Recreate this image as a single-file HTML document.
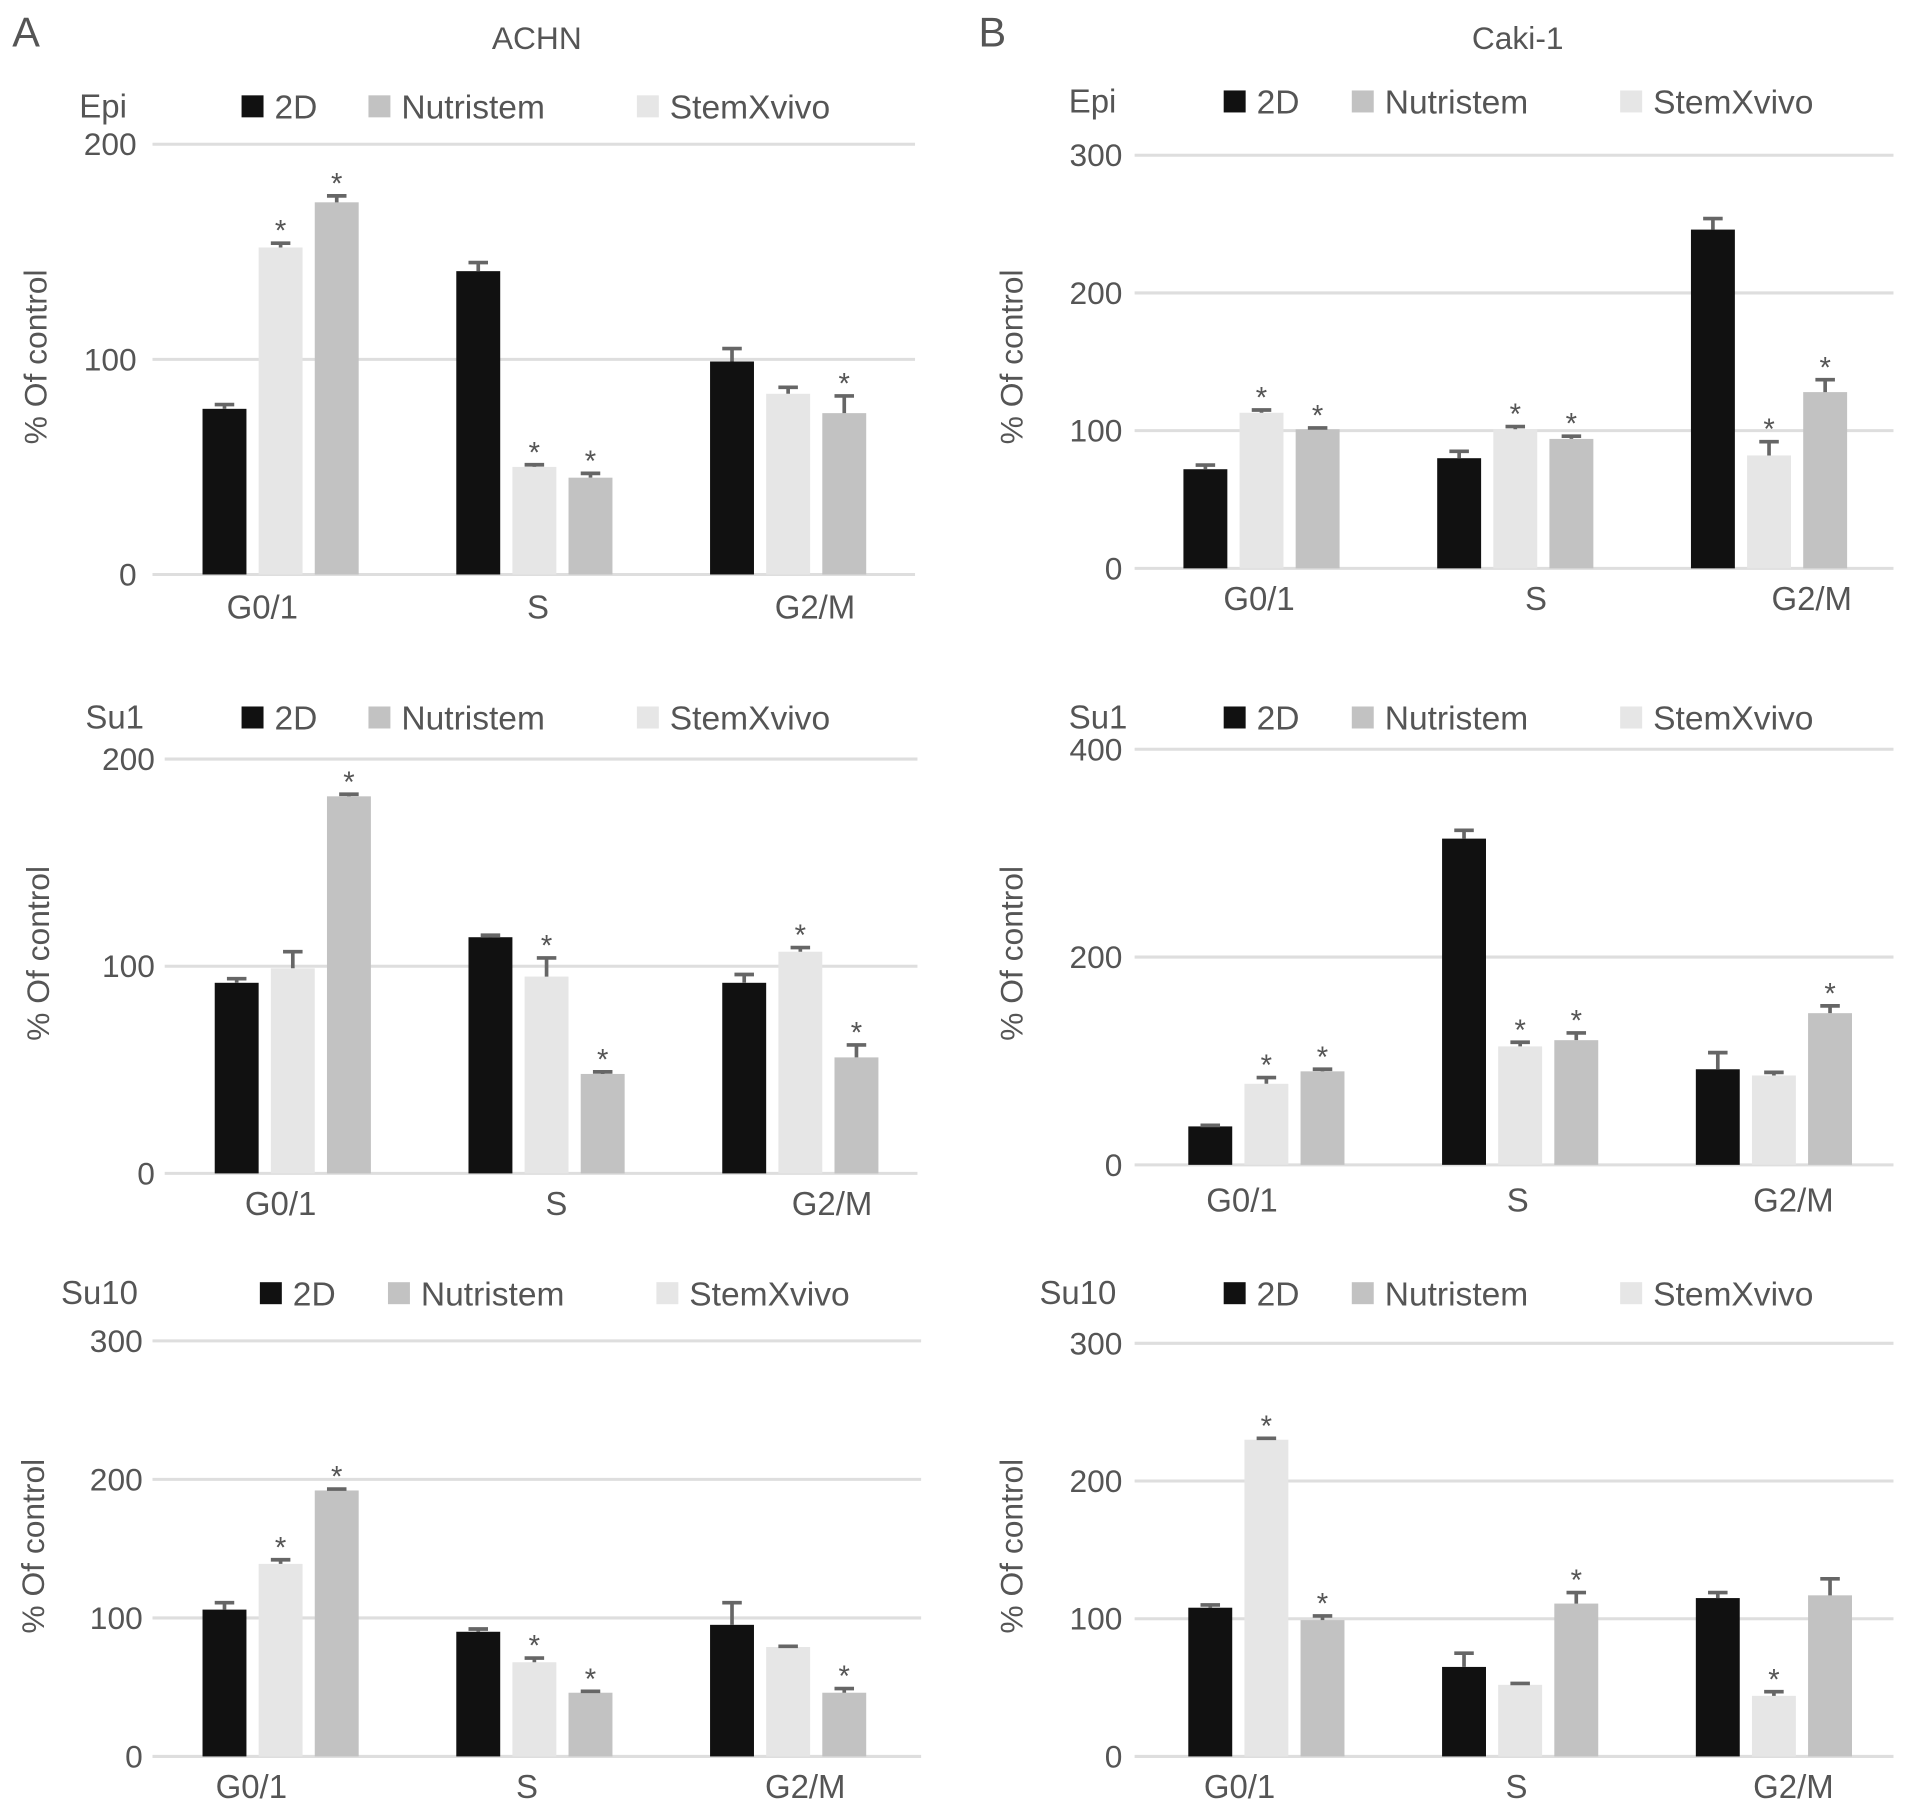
<!DOCTYPE html>
<html><head><meta charset="utf-8"><style>
html,body{margin:0;padding:0;background:#fff;}
svg{display:block;}
text{font-family:"Liberation Sans",sans-serif;fill:#555;}
</style></head><body>
<svg id="fig" width="1913" height="1809" viewBox="0 0 1568 1480" preserveAspectRatio="none" xmlns="http://www.w3.org/2000/svg">
<text x="10" y="38" font-size="34" fill="#333">A</text>
<text x="440" y="40" font-size="26" text-anchor="middle">ACHN</text>
<text x="802" y="38" font-size="34" fill="#333">B</text>
<text x="1244" y="40" font-size="26" text-anchor="middle">Caki-1</text>
</svg>
<script>
const categories = ["G0/1","S","G2/M"];
const seriesNames = ["2D","StemXvivo","Nutristem"];
// ACHN Epi
const aEpi2D=[77,141,99], aEpiStem=[152,50,84], aEpiNutri=[173,45,75];
const aEpiErr2D=[2,4,6], aEpiErrStem=[2,1,3], aEpiErrNutri=[3,2,8];
const aEpiStars=[[0,1],[0,2],[1,1],[1,2],[2,2]];
const aEpiTicks=[0,100,200];
// ACHN Su1
const aSu12D=[92,114,92], aSu1Stem=[99,95,107], aSu1Nutri=[182,48,56];
const aSu1Err2D=[2,1,4], aSu1ErrStem=[8,9,2], aSu1ErrNutri=[1,1,6];
const aSu1Stars=[[0,2],[1,1],[1,2],[2,1],[2,2]];
const aSu1Ticks=[0,100,200];
// ACHN Su10
const aSu102D=[106,90,95], aSu10Stem=[139,68,79], aSu10Nutri=[192,46,46];
const aSu10Err2D=[5,2,16], aSu10ErrStem=[3,3,0.5], aSu10ErrNutri=[1,1,3];
const aSu10Stars=[[0,1],[0,2],[1,1],[1,2],[2,2]];
const aSu10Ticks=[0,100,200,300];
// Caki-1 Epi
const bEpi2D=[72,80,246], bEpiStem=[113,101,82], bEpiNutri=[101,94,128];
const bEpiErr2D=[3,5,8], bEpiErrStem=[2,2,10], bEpiErrNutri=[1,2,9];
const bEpiStars=[[0,1],[0,2],[1,1],[1,2],[2,1],[2,2]];
const bEpiTicks=[0,100,200,300];
// Caki-1 Su1
const bSu12D=[37,314,92], bSu1Stem=[78,114,86], bSu1Nutri=[90,120,146];
const bSu1Err2D=[1,8,16], bSu1ErrStem=[6,4,3], bSu1ErrNutri=[2,7,7];
const bSu1Stars=[[0,1],[0,2],[1,1],[1,2],[2,2]];
const bSu1Ticks=[0,200,400];
// Caki-1 Su10
const bSu102D=[108,65,115], bSu10Stem=[230,52,44], bSu10Nutri=[99,111,117];
const bSu10Err2D=[2,10,4], bSu10ErrStem=[1,1,3], bSu10ErrNutri=[3,8,12];
const bSu10Stars=[[0,1],[0,2],[1,2],[2,1]];
const bSu10Ticks=[0,100,200,300];

const NS="http://www.w3.org/2000/svg";
const svg=document.getElementById('fig');
const colors=["#111111","#e6e6e6","#c2c2c2"];
function mk(tag,attrs,parent){const e=document.createElementNS(NS,tag);for(const k in attrs)e.setAttribute(k,attrs[k]);(parent||svg).appendChild(e);return e;}

function panel(id,label,vals,errs,stars,ticks,L){
  const g=mk('g',{});
  
  
  const maxV=ticks[ticks.length-1];
  const y=v=>L.y0-(v/maxV)*(L.y0-L.yTop);
  ticks.forEach(t=>{
    const ln=mk('line',{x1:L.gx1,x2:L.gx2,y1:y(t),y2:y(t),stroke:'#dedede','stroke-width':2.5},g);
    
    
    const tx=mk('text',{x:L.tickX,y:y(t)+9,'font-size':26,'text-anchor':'end'},g);
    tx.textContent=t;
    
    
  });
  const yl=mk('text',{x:0,y:0,'font-size':26,'text-anchor':'middle',transform:`translate(${L.ylX},${L.ylY}) rotate(-90)`},g);
  yl.textContent='% Of control';
  
  
  const lab=mk('text',{x:L.labX,y:L.legY+9,'font-size':27},g);
  lab.textContent=label;
  
  
  const leg=[[L.lg[0],'#111111','2D'],[L.lg[1],'#c2c2c2','Nutristem'],[L.lg[2],'#e6e6e6','StemXvivo']];
  leg.forEach(([lx,c,n])=>{
    const r=mk('rect',{x:lx,y:L.legY-9,width:18,height:18,fill:c},g);
    
    
    const t=mk('text',{x:lx+27,y:L.legY+10,'font-size':27.5},g);
    t.textContent=n;
    
    
  });
  for(let c=0;c<categories.length;c++){
    for(let s=0;s<3;s++){
      const x=L.x0+c*208+s*46, w=36, v=vals[s][c], e=errs[s][c];
      const r=mk('rect',{x:x,y:y(v),width:w,height:L.y0-y(v),fill:colors[s]},g);
      
      
      const cx=x+w/2;
      const eb=mk('path',{d:`M${cx},${y(v)} V${y(v+e)} M${cx-8},${y(v+e)} H${cx+8}`,stroke:'#666','stroke-width':3,fill:'none'},g);
      
      
    }
    const ct=mk('text',{x:L.catX[c],y:L.catY,'font-size':27,'text-anchor':'middle'},g);
    ct.textContent=categories[c];
    
    
  }
  stars.forEach(([c,s])=>{
    const x=L.x0+c*208+s*46+18, v=vals[s][c]+errs[s][c];
    const st=mk('text',{x:x,y:y(v)-2,'font-size':24,'text-anchor':'middle',fill:'#666'},g);
    st.textContent='*';
    
    
  });
}
const LA=[198,302,522], LB=[1003,1108,1328];
panel('achn-epi','Epi',[aEpi2D,aEpiStem,aEpiNutri],[aEpiErr2D,aEpiErrStem,aEpiErrNutri],aEpiStars,aEpiTicks,
 {y0:470,yTop:118,gx1:125,gx2:750,tickX:112,x0:166,catY:506,catX:[215,441,668],legY:87,labX:65,lg:LA,ylX:38,ylY:292});
panel('achn-su1','Su1',[aSu12D,aSu1Stem,aSu1Nutri],[aSu1Err2D,aSu1ErrStem,aSu1ErrNutri],aSu1Stars,aSu1Ticks,
 {y0:960,yTop:621,gx1:135,gx2:752,tickX:127,x0:176,catY:994,catX:[230,456,682],legY:587,labX:70,lg:LA,ylX:40,ylY:780});
panel('achn-su10','Su10',[aSu102D,aSu10Stem,aSu10Nutri],[aSu10Err2D,aSu10ErrStem,aSu10ErrNutri],aSu10Stars,aSu10Ticks,
 {y0:1437,yTop:1097,gx1:125,gx2:755,tickX:117,x0:166,catY:1471,catX:[206,432,660],legY:1058,labX:50,lg:[213,318,538],ylX:36,ylY:1265});
panel('caki-epi','Epi',[bEpi2D,bEpiStem,bEpiNutri],[bEpiErr2D,bEpiErrStem,bEpiErrNutri],bEpiStars,bEpiTicks,
 {y0:465,yTop:127,gx1:930,gx2:1552,tickX:920,x0:970,catY:499,catX:[1032,1259,1485],legY:83,labX:876,lg:LB,ylX:838,ylY:292});
panel('caki-su1','Su1',[bSu12D,bSu1Stem,bSu1Nutri],[bSu1Err2D,bSu1ErrStem,bSu1ErrNutri],bSu1Stars,bSu1Ticks,
 {y0:953,yTop:613,gx1:930,gx2:1552,tickX:920,x0:974,catY:991,catX:[1018,1244,1470],legY:587,labX:876,lg:LB,ylX:838,ylY:780});
panel('caki-su10','Su10',[bSu102D,bSu10Stem,bSu10Nutri],[bSu10Err2D,bSu10ErrStem,bSu10ErrNutri],bSu10Stars,bSu10Ticks,
 {y0:1437,yTop:1099,gx1:930,gx2:1552,tickX:920,x0:974,catY:1471,catX:[1016,1243,1470],legY:1058,labX:852,lg:LB,ylX:838,ylY:1265});
</script>
</body></html>
